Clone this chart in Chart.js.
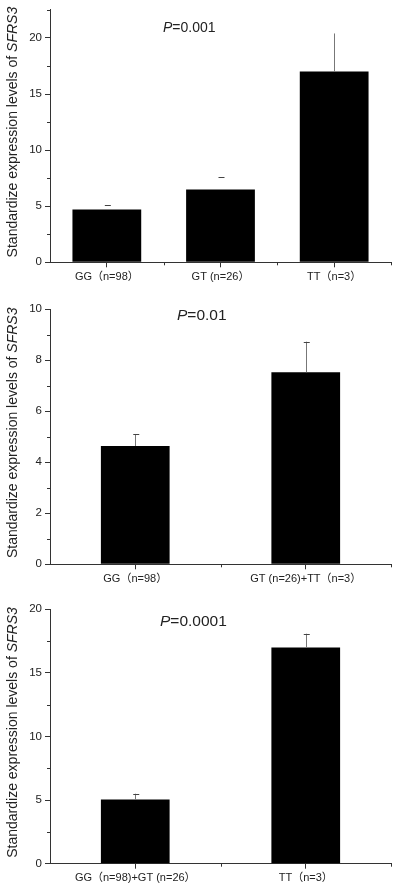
<!DOCTYPE html>
<html lang="en">
<head>
  <meta charset="UTF-8">
  <title>SFRS3 expression by genotype</title>
  <script src="https://cdn.jsdelivr.net/npm/chart.js"></script>
  <style>
    body { margin: 0; background: #fff; }
    canvas { display: block; }
  </style>
</head>
<body>
  <canvas id="chart-genotype" width="400" height="290"></canvas>
  <canvas id="chart-dominant" width="400" height="300"></canvas>
  <canvas id="chart-recessive" width="400" height="300"></canvas>

  <script>
    // Panel 1: GG vs GT vs TT
    const genoLabels = ['GG（n=98）', 'GT (n=26）', 'TT（n=3）'];
    const genoMeans = [4.7, 6.5, 17.0];
    const genoErrors = [0.45, 1.08, 3.4];
    const genoP = '=0.001';

    // Panel 2: GG vs GT+TT
    const domLabels = ['GG（n=98）', 'GT (n=26)+TT（n=3）'];
    const domMeans = [4.64, 7.53];
    const domErrors = [0.47, 1.2];
    const domP = '=0.01';

    // Panel 3: GG+GT vs TT
    const recLabels = ['GG（n=98)+GT (n=26）', 'TT（n=3）'];
    const recMeans = [5.05, 17.0];
    const recErrors = [0.45, 1.08];
    const recP = '=0.0001';

    const FONT = '"Liberation Sans", Arial, "Noto Sans CJK SC", sans-serif';
    const TEXT = '#222';

    // error bars, minor ticks, rotated y title and the P value
    const decorPlugin = {
      id: 'decor',
      afterDatasetsDraw(chart, args, opts) {
        const ctx = chart.ctx;
        const x = chart.scales.x;
        const y = chart.scales.y;
        const area = chart.chartArea;
        const meta = chart.getDatasetMeta(0);
        ctx.save();

        // error bars
        opts.errors.forEach((err, i) => {
          const bar = meta.data[i];
          const top = y.getPixelForValue(opts.means[i]);
          const end = y.getPixelForValue(opts.means[i] + err);
          ctx.lineWidth = 1;
          if (opts.stems[i]) {
            ctx.strokeStyle = '#777';
            ctx.beginPath();
            ctx.moveTo(Math.round(bar.x) + 0.5, top);
            ctx.lineTo(Math.round(bar.x) + 0.5, end);
            ctx.stroke();
          }
          if (opts.caps[i]) {
            ctx.strokeStyle = '#444';
            ctx.beginPath();
            ctx.moveTo(bar.x - 2, Math.round(end) + 0.5);
            ctx.lineTo(bar.x + 4, Math.round(end) + 0.5);
            ctx.stroke();
          }
        });

        // minor ticks
        ctx.strokeStyle = '#333';
        ctx.lineWidth = 1;
        for (let v = opts.minorStep; v <= y.max + 1e-6; v += opts.minorStep * 2) {
          const py = Math.round(y.getPixelForValue(v)) + 0.5;
          ctx.beginPath();
          ctx.moveTo(area.left - 3, py);
          ctx.lineTo(area.left, py);
          ctx.stroke();
        }
        const half = (x.getPixelForValue(1) - x.getPixelForValue(0)) / 2;
        for (let i = 0; i < chart.data.labels.length; i++) {
          const px = Math.round(x.getPixelForValue(i) + half) + 0.5;
          ctx.beginPath();
          ctx.moveTo(px, area.bottom);
          ctx.lineTo(px, area.bottom + 3);
          ctx.stroke();
        }

        // y axis title with italic gene name
        ctx.fillStyle = TEXT;
        ctx.textBaseline = 'middle';
        ctx.textAlign = 'left';
        const plain = 'Standardize expression levels of ';
        const gene = 'SFRS3';
        const normalFont = '14px ' + FONT;
        const italicFont = 'italic 14px ' + FONT;
        ctx.font = normalFont;
        const w1 = ctx.measureText(plain).width;
        ctx.font = italicFont;
        const w2 = ctx.measureText(gene).width;
        ctx.translate(13, (area.top + area.bottom) / 2 - 4);
        ctx.rotate(-Math.PI / 2);
        ctx.font = normalFont;
        ctx.fillText(plain, -(w1 + w2) / 2, 0);
        ctx.font = italicFont;
        ctx.fillText(gene, -(w1 + w2) / 2 + w1, 0);
        ctx.setTransform(1, 0, 0, 1, 0, 0);

        // P value
        const pSize = opts.pSize;
        ctx.font = 'italic ' + pSize + 'px ' + FONT;
        ctx.fillText('P', opts.pX, opts.pY);
        const pw = ctx.measureText('P').width;
        ctx.font = pSize + 'px ' + FONT;
        ctx.fillText(opts.pText, opts.pX + pw, opts.pY);

        ctx.restore();
      }
    };

    function makeChart(id, labels, means, errors, cfg) {
      return new Chart(document.getElementById(id), {
        type: 'bar',
        data: {
          labels: labels,
          datasets: [{
            data: means,
            backgroundColor: '#000',
            borderColor: '#000',
            borderWidth: 0,
            barPercentage: 1,
            categoryPercentage: cfg.barFrac
          }]
        },
        options: {
          responsive: false,
          animation: false,
          layout: { padding: { top: cfg.top, right: 9, left: 0, bottom: 0 } },
          plugins: {
            legend: { display: false },
            tooltip: { enabled: false },
            decor: {
              means: means,
              errors: errors,
              stems: cfg.stems,
              caps: cfg.caps,
              minorStep: cfg.step / 2,
              pText: cfg.pText,
              pX: cfg.pX,
              pY: cfg.pY,
              pSize: cfg.pSize
            }
          },
          scales: {
            x: {
              afterFit: s => { s.height = cfg.xHeight; },
              grid: { display: true, drawOnChartArea: false, offset: false, tickLength: 5, color: '#333' },
              border: { display: true, color: '#333', width: 1 },
              ticks: { color: TEXT, font: { family: FONT, size: 11 }, padding: 3, maxRotation: 0 }
            },
            y: {
              min: 0,
              max: cfg.max,
              afterFit: s => { s.width = 50; },
              grid: { display: true, drawOnChartArea: false, tickLength: 5, color: '#333' },
              border: { display: true, color: '#333', width: 1 },
              ticks: { stepSize: cfg.step, includeBounds: false, color: TEXT, font: { family: FONT, size: 11.5 }, padding: 3 }
            }
          }
        },
        plugins: [decorPlugin]
      });
    }

    makeChart('chart-genotype', genoLabels, genoMeans, genoErrors, {
      max: 22.5, step: 5, top: 8.5, xHeight: 27.7, barFrac: 0.605,
      stems: [false, false, true], caps: [true, true, false],
      pText: genoP, pX: 163, pY: 28, pSize: 14
    });
    makeChart('chart-dominant', domLabels, domMeans, domErrors, {
      max: 10, step: 2, top: 19.3, xHeight: 25.7, barFrac: 0.403,
      stems: [true, true], caps: [true, true],
      pText: domP, pX: 177, pY: 26, pSize: 15.5
    });
    makeChart('chart-recessive', recLabels, recMeans, recErrors, {
      max: 20, step: 5, top: 19.3, xHeight: 26.3, barFrac: 0.403,
      stems: [true, true], caps: [true, true],
      pText: recP, pX: 160, pY: 32, pSize: 15.5
    });
  </script>
</body>
</html>
